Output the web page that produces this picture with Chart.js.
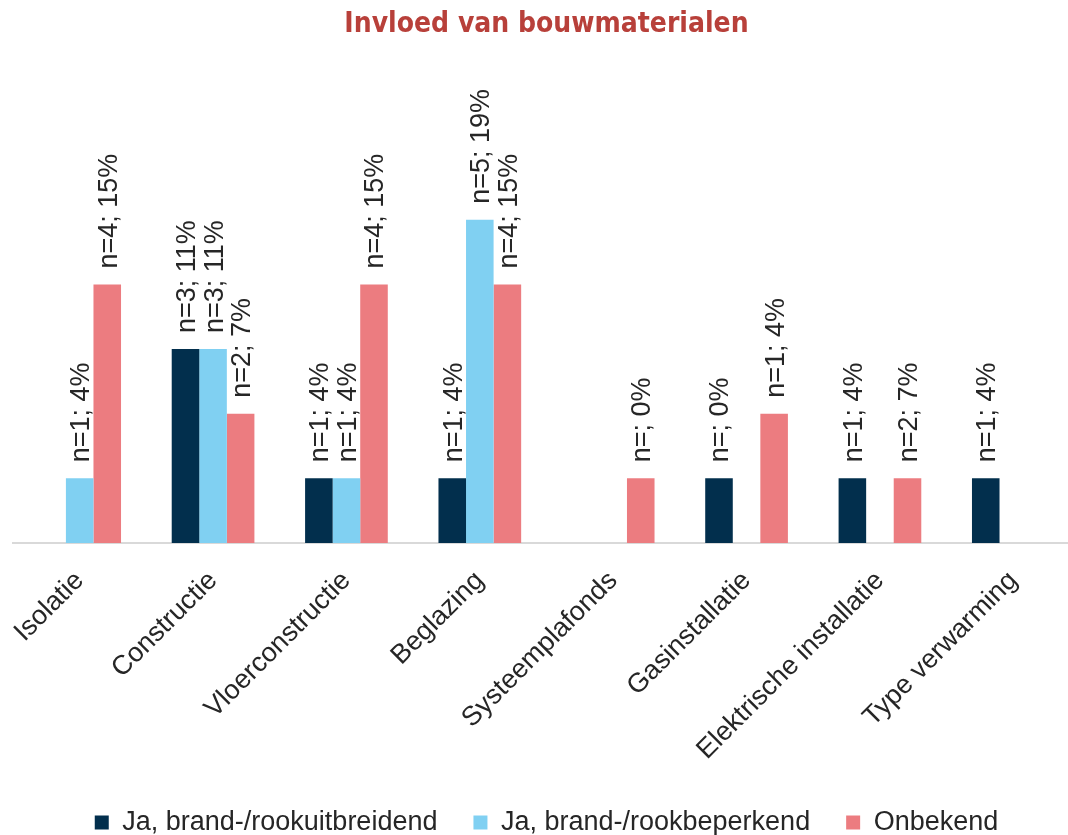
<!DOCTYPE html>
<html>
<head>
<meta charset="utf-8">
<script src="https://cdn.jsdelivr.net/npm/chart.js@4.4.1/dist/chart.umd.min.js"></script>
<style>
  html, body { margin: 0; padding: 0; background: #ffffff; overflow: hidden; }
  #wrap { width: 1068px; height: 835px; overflow: hidden; position: relative; }
  canvas { display: block; }
</style>
</head>
<body>
<div id="wrap"><canvas id="c" width="1081" height="846"></canvas></div>
<script>
const categories = ['Isolatie', 'Constructie', 'Vloerconstructie', 'Beglazing', 'Systeemplafonds', 'Gasinstallatie', 'Elektrische installatie', 'Type verwarming'];
const seriesNames = ['Ja, brand-/rookuitbreidend', 'Ja, brand-/rookbeperkend', 'Onbekend'];
const uitbreidend = [null, 3, 1, 1, null, 1, 1, 1];
const beperkend = [1, 3, 1, 5, null, null, null, null];
const onbekend = [4, 2, 4, 4, 1, 2, 1, null];
const uitbreidendLabels = [null, 'n=3; 11%', 'n=1; 4%', 'n=1; 4%', null, 'n=; 0%', 'n=1; 4%', 'n=1; 4%'];
const beperkendLabels = ['n=1; 4%', 'n=3; 11%', 'n=1; 4%', 'n=5; 19%', null, null, null, null];
const onbekendLabels = ['n=4; 15%', 'n=2; 7%', 'n=4; 15%', 'n=4; 15%', 'n=; 0%', 'n=1; 4%', 'n=2; 7%', null];
const colors = ['#022f4d', '#80d0f2', '#ec7c80'];
const FONT = '"Liberation Sans", Arial, sans-serif';

const barLabelPlugin = {
  id: 'barLabels',
  afterDatasetsDraw(chart) {
    const ctx = chart.ctx;
    chart.data.datasets.forEach((ds, di) => {
      const meta = chart.getDatasetMeta(di);
      meta.data.forEach((bar, i) => {
        const txt = ds.valueLabels[i];
        if (txt == null || ds.data[i] == null) return;
        ctx.save();
        ctx.translate(bar.x + 2, bar.y - 16);
        ctx.rotate(-Math.PI / 2);
        ctx.font = '27px ' + FONT;
        ctx.fillStyle = '#262626';
        ctx.textAlign = 'left';
        ctx.textBaseline = 'middle';
        ctx.fillText(txt, 0, 0);
        ctx.restore();
      });
    });
  }
};

new Chart(document.getElementById('c'), {
  type: 'bar',
  data: {
    labels: categories,
    datasets: [
      { label: seriesNames[0], data: uitbreidend, valueLabels: uitbreidendLabels, backgroundColor: colors[0] },
      { label: seriesNames[1], data: beperkend, valueLabels: beperkendLabels, backgroundColor: colors[1] },
      { label: seriesNames[2], data: onbekend, valueLabels: onbekendLabels, backgroundColor: colors[2] }
    ]
  },
  options: {
    responsive: false,
    animation: false,
    layout: { padding: { left: 13, right: 1, top: 0, bottom: 0 } },
    datasets: { bar: { categoryPercentage: 0.62, barPercentage: 1.0 } },
    scales: {
      x: {
        grid: { display: false, drawTicks: false },
        border: { display: true, color: '#d9d9d9', width: 2 },
        ticks: {
          minRotation: 45, maxRotation: 45, padding: 22,
          color: '#262626',
          font: { family: FONT, size: 27 }
        },
        afterFit(scale) {
          scale.height = 230;
          scale.paddingLeft = 0;
          scale.paddingRight = 0;
        }
      },
      y: {
        display: false,
        min: 0, max: 7
      }
    },
    plugins: {
      title: {
        display: true,
        text: 'Invloed van bouwmaterialen',
        color: '#b8403a',
        font: { family: '"Liberation Sans Narrow", "DejaVu Sans Condensed", "Roboto", sans-serif', size: 28, weight: 'bold' },
        padding: { top: 8, bottom: 49 }
      },
      legend: {
        display: true,
        position: 'bottom',
        labels: {
          color: '#262626',
          font: { family: FONT, size: 27 },
          boxWidth: 14,
          boxHeight: 14,
          padding: 36
        }
      },
      tooltip: { enabled: false }
    }
  },
  plugins: [barLabelPlugin]
});
</script>
</body>
</html>
